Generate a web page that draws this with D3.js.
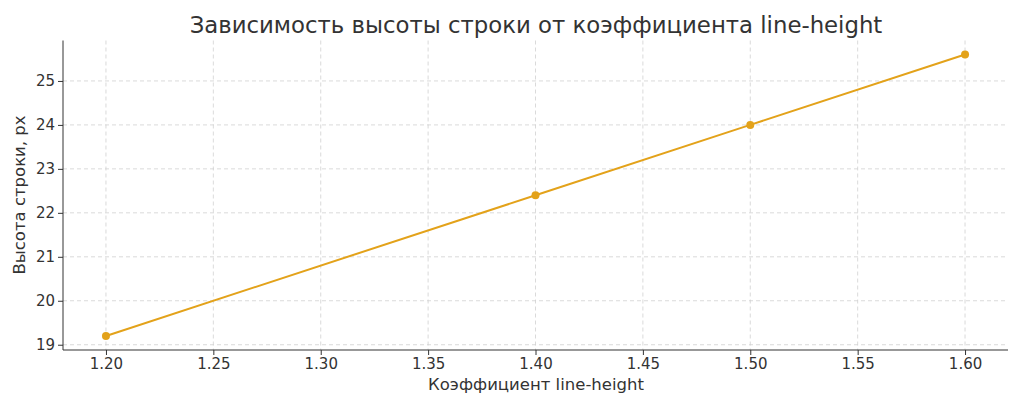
<!DOCTYPE html>
<html><head><meta charset="utf-8">
<script src="https://cdn.jsdelivr.net/npm/d3@7"></script>
<style>body{margin:0;background:#fff}svg{font-family:"DejaVu Sans",sans-serif}</style>
</head><body><svg id="c" width="1024" height="410"></svg>
<script>
const xValues=[1.2,1.4,1.5,1.6];
const yValues=[19.2,22.4,24.0,25.6];
const xTicks=[1.20,1.25,1.30,1.35,1.40,1.45,1.50,1.55,1.60];
const yTicks=[19,20,21,22,23,24,25];
const title="Зависимость высоты строки от коэффициента line-height";
const xLabel="Коэффициент line-height";
const yLabel="Высота строки, px";

const svg=d3.select("#c");
const L=63,R=1008,T=40.5,B=350;
const x=d3.scaleLinear().domain([1.18,1.62]).range([L,R]);
const y=d3.scaleLinear().domain([18.88,25.92]).range([B,T]);
const col="#E3A21A";

const g=svg.append("g");
g.selectAll(".gx").data(xTicks).join("line").attr("x1",d=>x(d)).attr("x2",d=>x(d)).attr("y1",T).attr("y2",B)
 .attr("stroke","#d0d0d0").attr("stroke-dasharray","4,3").attr("stroke-width",0.8);
g.selectAll(".gy").data(yTicks).join("line").attr("y1",d=>y(d)).attr("y2",d=>y(d)).attr("x1",L).attr("x2",R)
 .attr("stroke","#d0d0d0").attr("stroke-dasharray","4,3").attr("stroke-width",0.8);

const xa=svg.append("g").attr("transform",`translate(0,${B})`).call(d3.axisBottom(x).tickValues(xTicks).tickFormat(d3.format(".2f")).tickSizeOuter(0).tickSize(5));
const ya=svg.append("g").attr("transform",`translate(${L},0)`).call(d3.axisLeft(y).tickValues(yTicks).tickFormat(d3.format("d")).tickSizeOuter(0).tickSize(5));
[xa,ya].forEach(a=>{a.selectAll("text").attr("font-size",15).attr("fill","#333").attr("font-family","DejaVu Sans");a.selectAll("line,path").attr("stroke","#333");});
xa.select(".domain").attr("d",`M${L},0H${R}`);
ya.select(".domain").attr("d",`M0,${T}V${B}`);

const pts=xValues.map((v,i)=>[v,yValues[i]]);
svg.append("path").datum(pts).attr("fill","none").attr("stroke",col).attr("stroke-width",2)
 .attr("d",d3.line().x(d=>x(d[0])).y(d=>y(d[1])));
svg.selectAll(".pt").data(pts).join("circle").attr("cx",d=>x(d[0])).attr("cy",d=>y(d[1])).attr("r",4).attr("fill",col);

svg.append("text").attr("x",536).attr("y",33).attr("text-anchor","middle").attr("font-size",22.8).attr("fill","#333").text(title);
svg.append("text").attr("x",536).attr("y",390).attr("text-anchor","middle").attr("font-size",16.5).attr("fill","#333").text(xLabel);
svg.append("text").attr("transform","translate(25,195) rotate(-90)").attr("text-anchor","middle").attr("font-size",16.5).attr("fill","#333").text(yLabel);
</script></body></html>
